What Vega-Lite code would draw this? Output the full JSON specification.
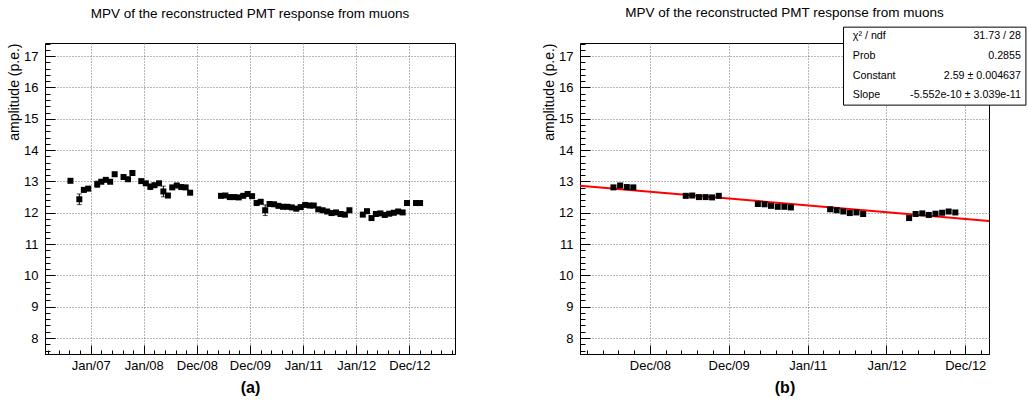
{
  "$schema": "https://vega.github.io/schema/vega-lite/v6.json",
  "background": "white",
  "padding": {"left": 7, "top": 5, "right": 0, "bottom": 0},
  "datasets": {
    "mpv": [
      {"t": "2006-08-15", "amp": 13.02, "err": 0.05, "fit": false},
      {"t": "2006-10-15", "amp": 12.43, "err": 0.17, "fit": false},
      {"t": "2006-11-15", "amp": 12.73, "err": 0.06, "fit": false},
      {"t": "2006-12-15", "amp": 12.77, "err": 0.06, "fit": false},
      {"t": "2007-02-15", "amp": 12.91, "err": 0.1, "fit": false},
      {"t": "2007-03-15", "amp": 12.99, "err": 0.05, "fit": false},
      {"t": "2007-04-15", "amp": 13.05, "err": 0.05, "fit": false},
      {"t": "2007-05-15", "amp": 12.99, "err": 0.05, "fit": false},
      {"t": "2007-06-15", "amp": 13.23, "err": 0.06, "fit": false},
      {"t": "2007-08-15", "amp": 13.14, "err": 0.05, "fit": false},
      {"t": "2007-09-15", "amp": 13.07, "err": 0.05, "fit": false},
      {"t": "2007-10-15", "amp": 13.27, "err": 0.05, "fit": false},
      {"t": "2007-12-15", "amp": 13.01, "err": 0.05, "fit": false},
      {"t": "2008-01-15", "amp": 12.94, "err": 0.05, "fit": false},
      {"t": "2008-02-15", "amp": 12.83, "err": 0.09, "fit": false},
      {"t": "2008-03-15", "amp": 12.88, "err": 0.05, "fit": false},
      {"t": "2008-04-15", "amp": 12.94, "err": 0.05, "fit": false},
      {"t": "2008-05-15", "amp": 12.68, "err": 0.17, "fit": false},
      {"t": "2008-06-15", "amp": 12.55, "err": 0.05, "fit": false},
      {"t": "2008-07-15", "amp": 12.81, "err": 0.05, "fit": true},
      {"t": "2008-08-15", "amp": 12.87, "err": 0.05, "fit": true},
      {"t": "2008-09-15", "amp": 12.82, "err": 0.05, "fit": true},
      {"t": "2008-10-15", "amp": 12.81, "err": 0.05, "fit": true},
      {"t": "2008-11-15", "amp": 12.64, "err": 0.05, "fit": false},
      {"t": "2009-06-15", "amp": 12.54, "err": 0.05, "fit": true},
      {"t": "2009-07-15", "amp": 12.55, "err": 0.05, "fit": true},
      {"t": "2009-08-15", "amp": 12.5, "err": 0.05, "fit": true},
      {"t": "2009-09-15", "amp": 12.5, "err": 0.05, "fit": true},
      {"t": "2009-10-15", "amp": 12.49, "err": 0.05, "fit": true},
      {"t": "2009-11-15", "amp": 12.54, "err": 0.05, "fit": true},
      {"t": "2009-12-15", "amp": 12.6, "err": 0.05, "fit": false},
      {"t": "2010-01-15", "amp": 12.53, "err": 0.05, "fit": false},
      {"t": "2010-02-15", "amp": 12.31, "err": 0.05, "fit": false},
      {"t": "2010-03-15", "amp": 12.35, "err": 0.05, "fit": false},
      {"t": "2010-04-15", "amp": 12.08, "err": 0.17, "fit": false},
      {"t": "2010-05-15", "amp": 12.28, "err": 0.05, "fit": true},
      {"t": "2010-06-15", "amp": 12.27, "err": 0.05, "fit": true},
      {"t": "2010-07-15", "amp": 12.22, "err": 0.05, "fit": true},
      {"t": "2010-08-15", "amp": 12.19, "err": 0.05, "fit": true},
      {"t": "2010-09-15", "amp": 12.19, "err": 0.05, "fit": true},
      {"t": "2010-10-15", "amp": 12.17, "err": 0.05, "fit": true},
      {"t": "2010-11-15", "amp": 12.13, "err": 0.05, "fit": false},
      {"t": "2010-12-15", "amp": 12.18, "err": 0.05, "fit": false},
      {"t": "2011-01-15", "amp": 12.25, "err": 0.05, "fit": false},
      {"t": "2011-02-15", "amp": 12.23, "err": 0.05, "fit": false},
      {"t": "2011-03-15", "amp": 12.23, "err": 0.05, "fit": false},
      {"t": "2011-04-15", "amp": 12.11, "err": 0.05, "fit": true},
      {"t": "2011-05-15", "amp": 12.08, "err": 0.05, "fit": true},
      {"t": "2011-06-15", "amp": 12.04, "err": 0.05, "fit": true},
      {"t": "2011-07-15", "amp": 11.99, "err": 0.05, "fit": true},
      {"t": "2011-08-15", "amp": 12.01, "err": 0.05, "fit": true},
      {"t": "2011-09-15", "amp": 11.96, "err": 0.05, "fit": true},
      {"t": "2011-10-15", "amp": 11.94, "err": 0.05, "fit": false},
      {"t": "2011-11-15", "amp": 12.08, "err": 0.05, "fit": false},
      {"t": "2012-02-15", "amp": 11.94, "err": 0.05, "fit": false},
      {"t": "2012-03-15", "amp": 12.05, "err": 0.05, "fit": false},
      {"t": "2012-04-15", "amp": 11.83, "err": 0.05, "fit": true},
      {"t": "2012-05-15", "amp": 11.96, "err": 0.05, "fit": true},
      {"t": "2012-06-15", "amp": 11.98, "err": 0.05, "fit": true},
      {"t": "2012-07-15", "amp": 11.93, "err": 0.06, "fit": true},
      {"t": "2012-08-15", "amp": 11.97, "err": 0.05, "fit": true},
      {"t": "2012-09-15", "amp": 12.0, "err": 0.05, "fit": true},
      {"t": "2012-10-15", "amp": 12.04, "err": 0.05, "fit": true},
      {"t": "2012-11-15", "amp": 12.01, "err": 0.05, "fit": true},
      {"t": "2012-12-15", "amp": 12.31, "err": 0.06, "fit": false},
      {"t": "2013-02-15", "amp": 12.31, "err": 0.05, "fit": false},
      {"t": "2013-03-15", "amp": 12.31, "err": 0.05, "fit": false}
    ],
    "fitline": [
      {"t": "2008-02-11", "amp": 12.86},
      {"t": "2013-04-20", "amp": 11.74}
    ],
    "stats": [
      {
        "label": ["χ² / ndf", "Prob", "Constant", "Slope"],
        "value": ["31.73 / 28", "0.2855", "2.59 ± 0.004637", "-5.552e-10 ± 3.039e-11"]
      }
    ]
  },
  "spacing": 86,
  "hconcat": [
    {
      "width": 410,
      "height": 311,
      "title": {"text": "MPV of the reconstructed PMT response from muons", "offset": 22.5},
      "data": {"name": "mpv"},
      "encoding": {
        "x": {
          "field": "t",
          "type": "temporal",
          "scale": {"type": "utc", "nice": false, "domain": [{"year": 2006, "month": 2, "date": 21, "utc": true}, {"year": 2013, "month": 11, "date": 10, "utc": true}]},
          "axis": {
            "title": "(a)",
            "values": {"expr": "[utc(2006,2,16),utc(2006,4,28),utc(2006,7,8),utc(2006,9,20),utc(2007,0,1),utc(2007,2,15),utc(2007,4,27),utc(2007,7,8),utc(2007,9,20),utc(2008,0,1),utc(2008,2,14),utc(2008,4,26),utc(2008,7,7),utc(2008,9,19),utc(2008,11,31),utc(2009,2,14),utc(2009,4,26),utc(2009,7,7),utc(2009,9,19),utc(2009,11,31),utc(2010,2,14),utc(2010,4,26),utc(2010,7,7),utc(2010,9,19),utc(2011,0,1),utc(2011,2,15),utc(2011,4,27),utc(2011,7,8),utc(2011,9,20),utc(2012,0,1),utc(2012,2,14),utc(2012,4,26),utc(2012,7,7),utc(2012,9,19),utc(2012,11,31),utc(2013,2,14),utc(2013,4,26),utc(2013,7,7),utc(2013,9,19)]"},
            "labelExpr": "(utcmonth(datum.value)==0 && utcdate(datum.value)==1) || (utcmonth(datum.value)==11 && utcdate(datum.value)==31) ? utcFormat(datum.value, '%b/%y') : ''",
            "tickSize": {"condition": {"test": "(utcmonth(datum.value)==0 && utcdate(datum.value)==1) || (utcmonth(datum.value)==11 && utcdate(datum.value)==31)", "value": -9}, "value": -4},
            "gridOpacity": {"condition": {"test": "(utcmonth(datum.value)==0 && utcdate(datum.value)==1) || (utcmonth(datum.value)==11 && utcdate(datum.value)==31)", "value": 1}, "value": 0},
            "labelPadding": 14,
            "titleFontSize": 16,
            "titleFontWeight": "bold",
            "titlePadding": 7
          }
        },
        "y": {
          "field": "amp",
          "type": "quantitative",
          "scale": {"domain": [7.49, 17.42], "nice": false, "zero": false},
          "axis": {
            "title": "amplitude (p.e.)",
            "titleAnchor": "end",
            "values": [7.6, 7.8, 8, 8.2, 8.4, 8.6, 8.8, 9, 9.2, 9.4, 9.6, 9.8, 10, 10.2, 10.4, 10.6, 10.8, 11, 11.2, 11.4, 11.6, 11.8, 12, 12.2, 12.4, 12.6, 12.8, 13, 13.2, 13.4, 13.6, 13.8, 14, 14.2, 14.4, 14.6, 14.8, 15, 15.2, 15.4, 15.6, 15.8, 16, 16.2, 16.4, 16.6, 16.8, 17, 17.2, 17.4],
            "labelExpr": "abs(datum.value - round(datum.value)) < 0.01 ? format(datum.value, 'd') : ''",
            "tickSize": {"condition": {"test": "abs(datum.value - round(datum.value)) < 0.01", "value": -10}, "value": -5},
            "gridOpacity": {"condition": {"test": "abs(datum.value - round(datum.value)) < 0.01", "value": 1}, "value": 0},
            "labelPadding": 17,
            "titlePadding": 2
          }
        }
      },
      "layer": [
        {
          "mark": {"type": "errorbar", "ticks": true, "size": 5, "thickness": 1, "color": "black"},
          "encoding": {"yError": {"field": "err"}}
        },
        {
          "mark": {"type": "square", "filled": true, "size": 36, "color": "black", "opacity": 1}
        }
      ]
    },
    {
      "width": 409,
      "height": 311,
      "title": {"text": "MPV of the reconstructed PMT response from muons", "offset": 6.8},
      "layer": [
        {
          "encoding": {
            "x": {
              "field": "t",
              "type": "temporal",
              "scale": {"type": "utc", "nice": false, "domain": [{"year": 2008, "month": 2, "date": 11, "utc": true}, {"year": 2013, "month": 4, "date": 20, "utc": true}]},
              "axis": {
                "title": "(b)",
                "values": {"expr": "[utc(2008,2,14),utc(2008,4,26),utc(2008,7,7),utc(2008,9,19),utc(2008,11,31),utc(2009,2,14),utc(2009,4,26),utc(2009,7,7),utc(2009,9,19),utc(2009,11,31),utc(2010,2,14),utc(2010,4,26),utc(2010,7,7),utc(2010,9,19),utc(2011,0,1),utc(2011,2,15),utc(2011,4,27),utc(2011,7,8),utc(2011,9,20),utc(2012,0,1),utc(2012,2,14),utc(2012,4,26),utc(2012,7,7),utc(2012,9,19),utc(2012,11,31),utc(2013,2,14)]"},
                "labelExpr": "(utcmonth(datum.value)==0 && utcdate(datum.value)==1) || (utcmonth(datum.value)==11 && utcdate(datum.value)==31) ? utcFormat(datum.value, '%b/%y') : ''",
                "tickSize": {"condition": {"test": "(utcmonth(datum.value)==0 && utcdate(datum.value)==1) || (utcmonth(datum.value)==11 && utcdate(datum.value)==31)", "value": -9}, "value": -4},
                "gridOpacity": {"condition": {"test": "(utcmonth(datum.value)==0 && utcdate(datum.value)==1) || (utcmonth(datum.value)==11 && utcdate(datum.value)==31)", "value": 1}, "value": 0},
                "labelPadding": 14,
                "titleFontSize": 16,
                "titleFontWeight": "bold",
                "titlePadding": 7
              }
            },
            "y": {
              "field": "amp",
              "type": "quantitative",
              "scale": {"domain": [7.49, 17.42], "nice": false, "zero": false},
              "axis": {
                "title": "amplitude (p.e.)",
                "titleAnchor": "end",
                "values": [7.6, 7.8, 8, 8.2, 8.4, 8.6, 8.8, 9, 9.2, 9.4, 9.6, 9.8, 10, 10.2, 10.4, 10.6, 10.8, 11, 11.2, 11.4, 11.6, 11.8, 12, 12.2, 12.4, 12.6, 12.8, 13, 13.2, 13.4, 13.6, 13.8, 14, 14.2, 14.4, 14.6, 14.8, 15, 15.2, 15.4, 15.6, 15.8, 16, 16.2, 16.4, 16.6, 16.8, 17, 17.2, 17.4],
                "labelExpr": "abs(datum.value - round(datum.value)) < 0.01 ? format(datum.value, 'd') : ''",
                "tickSize": {"condition": {"test": "abs(datum.value - round(datum.value)) < 0.01", "value": -10}, "value": -5},
                "gridOpacity": {"condition": {"test": "abs(datum.value - round(datum.value)) < 0.01", "value": 1}, "value": 0},
                "labelPadding": 17,
                "titlePadding": 2
              }
            }
          },
          "layer": [
            {
              "data": {"name": "fitline"},
              "mark": {"type": "line", "color": "#ff0000", "strokeWidth": 2}
            },
            {
              "data": {"name": "mpv"},
              "transform": [{"filter": "datum.fit"}],
              "mark": {"type": "errorbar", "ticks": true, "size": 5, "thickness": 1, "color": "black"},
              "encoding": {"yError": {"field": "err"}}
            },
            {
              "data": {"name": "mpv"},
              "transform": [{"filter": "datum.fit"}],
              "mark": {"type": "square", "filled": true, "size": 36, "color": "black", "opacity": 1}
            }
          ]
        },
        {
          "data": {"name": "stats"},
          "encoding": {
            "x": {
              "datum": 1308182400000,
              "type": "temporal",
              "scale": {"type": "utc", "nice": false, "domain": [{"year": 2008, "month": 2, "date": 11, "utc": true}, {"year": 2013, "month": 4, "date": 20, "utc": true}]},
              "axis": {
                "title": "(b)",
                "values": {"expr": "[utc(2008,2,14),utc(2008,4,26),utc(2008,7,7),utc(2008,9,19),utc(2008,11,31),utc(2009,2,14),utc(2009,4,26),utc(2009,7,7),utc(2009,9,19),utc(2009,11,31),utc(2010,2,14),utc(2010,4,26),utc(2010,7,7),utc(2010,9,19),utc(2011,0,1),utc(2011,2,15),utc(2011,4,27),utc(2011,7,8),utc(2011,9,20),utc(2012,0,1),utc(2012,2,14),utc(2012,4,26),utc(2012,7,7),utc(2012,9,19),utc(2012,11,31),utc(2013,2,14)]"},
                "labelExpr": "(utcmonth(datum.value)==0 && utcdate(datum.value)==1) || (utcmonth(datum.value)==11 && utcdate(datum.value)==31) ? utcFormat(datum.value, '%b/%y') : ''",
                "tickSize": {"condition": {"test": "(utcmonth(datum.value)==0 && utcdate(datum.value)==1) || (utcmonth(datum.value)==11 && utcdate(datum.value)==31)", "value": -9}, "value": -4},
                "gridOpacity": {"condition": {"test": "(utcmonth(datum.value)==0 && utcdate(datum.value)==1) || (utcmonth(datum.value)==11 && utcdate(datum.value)==31)", "value": 1}, "value": 0},
                "labelPadding": 14,
                "titleFontSize": 16,
                "titleFontWeight": "bold",
                "titlePadding": 7
              }
            },
            "y": {
              "datum": 17.926,
              "type": "quantitative",
              "scale": {"domain": [7.49, 17.42], "nice": false, "zero": false},
              "axis": {
                "title": "amplitude (p.e.)",
                "titleAnchor": "end",
                "values": [7.6, 7.8, 8, 8.2, 8.4, 8.6, 8.8, 9, 9.2, 9.4, 9.6, 9.8, 10, 10.2, 10.4, 10.6, 10.8, 11, 11.2, 11.4, 11.6, 11.8, 12, 12.2, 12.4, 12.6, 12.8, 13, 13.2, 13.4, 13.6, 13.8, 14, 14.2, 14.4, 14.6, 14.8, 15, 15.2, 15.4, 15.6, 15.8, 16, 16.2, 16.4, 16.6, 16.8, 17, 17.2, 17.4],
                "labelExpr": "abs(datum.value - round(datum.value)) < 0.01 ? format(datum.value, 'd') : ''",
                "tickSize": {"condition": {"test": "abs(datum.value - round(datum.value)) < 0.01", "value": -10}, "value": -5},
                "gridOpacity": {"condition": {"test": "abs(datum.value - round(datum.value)) < 0.01", "value": 1}, "value": 0},
                "labelPadding": 17,
                "titlePadding": 2
              }
            }
          },
          "layer": [
            {
              "mark": {"type": "rect", "fill": "white", "stroke": "black", "strokeWidth": 1},
              "encoding": {
                "x2": {"datum": 1381190400000},
                "y2": {"datum": 15.436}
              }
            },
            {
              "mark": {"type": "text", "align": "left", "baseline": "middle", "fontSize": 10.7, "lineHeight": 19.7, "color": "black"},
              "encoding": {
                "x": {"datum": 1311897600000, "type": "temporal"},
                "y": {"datum": 17.638, "type": "quantitative"},
                "text": {"field": "label"}
              }
            },
            {
              "mark": {"type": "text", "align": "right", "baseline": "middle", "fontSize": 10.7, "lineHeight": 19.7, "color": "black"},
              "encoding": {
                "x": {"datum": 1379203200000, "type": "temporal"},
                "y": {"datum": 17.638, "type": "quantitative"},
                "text": {"field": "value"}
              }
            }
          ]
        }
      ]
    }
  ],
  "config": {
    "font": "Liberation Sans",
    "view": {"stroke": "black", "strokeWidth": 1},
    "title": {"fontSize": 13.5, "fontWeight": "normal", "color": "black", "font": "Liberation Sans", "frame": "group"},
    "axis": {
      "domainColor": "black",
      "tickColor": "black",
      "labelColor": "black",
      "titleColor": "black",
      "labelFont": "Liberation Sans",
      "titleFont": "Liberation Sans",
      "labelFontSize": 13,
      "titleFontSize": 14,
      "titleFontWeight": "normal",
      "grid": true,
      "gridColor": "#707070",
      "gridDash": [1, 2],
      "gridWidth": 1
    }
  }
}
